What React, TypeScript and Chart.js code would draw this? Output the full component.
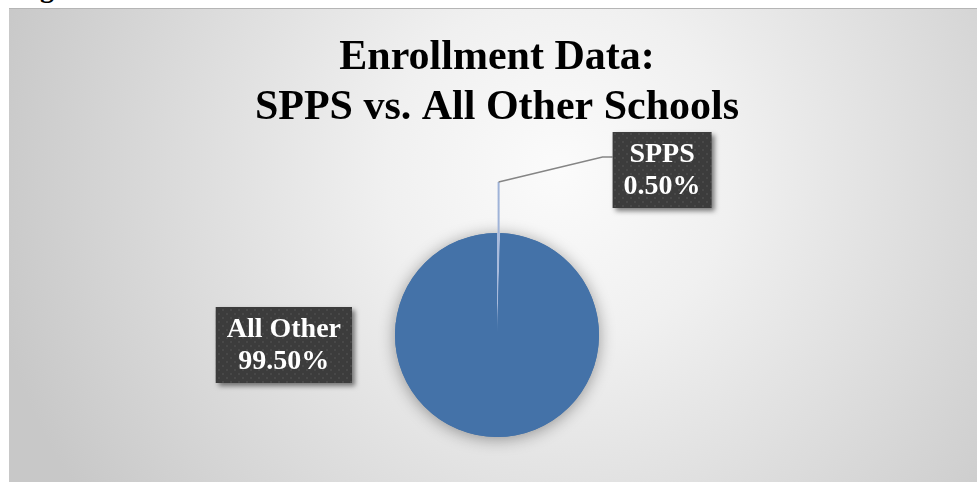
import React, { useEffect, useRef } from "react";
import { Chart, registerables } from "chart.js";

Chart.register(...registerables);

const titleLines = ["Enrollment Data:", "SPPS vs. All Other Schools"];
const categories = ["SPPS", "All Other"];
const shares = [0.5, 99.5];
const sliceColors = ["#A9BBDC", "#4472A8"];

const SERIF = "'Liberation Serif', 'Times New Roman', serif";

function makePattern(ctx: CanvasRenderingContext2D) {
  const c = document.createElement("canvas");
  c.width = 8;
  c.height = 8;
  const p = c.getContext("2d")!;
  p.fillStyle = "#3c3c3c";
  p.fillRect(0, 0, 8, 8);
  p.fillStyle = "#4c4c4c";
  p.beginPath();
  p.arc(2, 2, 1.1, 0, Math.PI * 2);
  p.fill();
  p.beginPath();
  p.arc(6, 6, 1.1, 0, Math.PI * 2);
  p.fill();
  return ctx.createPattern(c, "repeat");
}

const backgroundPlugin = {
  id: "bgGradient",
  beforeDraw(chart: any) {
    const { ctx, width, height } = chart;
    ctx.save();
    const g = ctx.createRadialGradient(551, 162, 0, 551, 162, 580);
    g.addColorStop(0, "#fbfbfb");
    g.addColorStop(0.3, "#f0f0f0");
    g.addColorStop(1, "#c8c8c8");
    ctx.fillStyle = g;
    ctx.fillRect(0, 0, width, height);
    ctx.strokeStyle = "#b5b5b5";
    ctx.lineWidth = 1;
    ctx.beginPath();
    ctx.moveTo(0, 0.5);
    ctx.lineTo(width, 0.5);
    ctx.stroke();
    ctx.restore();
  },
};

const pieShadowPlugin = {
  id: "pieShadow",
  beforeDatasetsDraw(chart: any) {
    const { ctx } = chart;
    const arc = chart.getDatasetMeta(0).data[1];
    if (!arc) return;
    const { x, y, outerRadius } = arc.getProps(["x", "y", "outerRadius"], true);
    ctx.save();
    ctx.shadowColor = "rgba(0,0,0,0.38)";
    ctx.shadowBlur = 16;
    ctx.shadowOffsetY = 2;
    ctx.fillStyle = sliceColors[1];
    ctx.beginPath();
    ctx.arc(x, y, outerRadius, 0, Math.PI * 2);
    ctx.fill();
    ctx.restore();
  },
};

const labelPlugin = {
  id: "calloutLabels",
  afterDraw(chart: any) {
    const { ctx } = chart;
    const meta = chart.getDatasetMeta(0);
    const total = shares.reduce((a, b) => a + b, 0);
    const pattern = makePattern(ctx);
    meta.data.forEach((arc: any, i: number) => {
      const { x, y, startAngle, endAngle, outerRadius } = arc.getProps(
        ["x", "y", "startAngle", "endAngle", "outerRadius"],
        true
      );
      const lines = [categories[i], ((shares[i] / total) * 100).toFixed(2) + "%"];
      ctx.save();
      ctx.font = `bold 28px ${SERIF}`;
      const w = Math.max(...lines.map((l) => ctx.measureText(l).width)) + 22;
      const h = 76;
      let left: number;
      let top: number;
      if (i === 0) {
        const mid = (startAngle + endAngle) / 2;
        const ox = x + outerRadius * Math.cos(mid);
        const oy = y + outerRadius * Math.sin(mid);
        const by = oy - 51;
        const ex = ox + 104;
        const ey = oy - 76;
        left = ox + 114;
        top = ey - 25;
        ctx.strokeStyle = "#9fb3d8";
        ctx.lineWidth = 2;
        ctx.beginPath();
        ctx.moveTo(ox, oy);
        ctx.lineTo(ox, by);
        ctx.stroke();
        ctx.strokeStyle = "#858585";
        ctx.lineWidth = 1.5;
        ctx.beginPath();
        ctx.moveTo(ox, by);
        ctx.lineTo(ex, ey);
        ctx.lineTo(left, ey);
        ctx.stroke();
      } else {
        left = x - 145 - w;
        top = y - 28;
      }
      ctx.shadowColor = "rgba(0,0,0,0.5)";
      ctx.shadowBlur = 5;
      ctx.shadowOffsetX = 3;
      ctx.shadowOffsetY = 3;
      ctx.fillStyle = pattern || "#3c3c3c";
      ctx.fillRect(left, top, w, h);
      ctx.shadowColor = "transparent";
      ctx.shadowBlur = 0;
      ctx.shadowOffsetX = 0;
      ctx.shadowOffsetY = 0;
      ctx.fillStyle = "#ffffff";
      ctx.textAlign = "center";
      ctx.textBaseline = "middle";
      ctx.fillText(lines[0], left + w / 2, top + 23);
      ctx.fillText(lines[1], left + w / 2, top + 55);
      ctx.restore();
    });
  },
};

export default function App() {
  const canvasRef = useRef<HTMLCanvasElement | null>(null);

  useEffect(() => {
    if (!canvasRef.current) return;
    const chart = new Chart(canvasRef.current, {
      type: "pie",
      data: {
        labels: categories,
        datasets: [
          {
            data: shares,
            backgroundColor: sliceColors,
            borderWidth: 0,
            radius: 102,
          } as any,
        ],
      },
      options: {
        animation: false,
        responsive: false,
        events: [],
        layout: { padding: { left: 8, right: 0, top: 0, bottom: 10 } },
        plugins: {
          legend: { display: false },
          tooltip: { enabled: false },
          title: {
            display: true,
            text: titleLines,
            color: "#000000",
            font: { family: SERIF, size: 42, weight: "bold", lineHeight: 50 / 42 },
            padding: { top: 25, bottom: 65 },
          },
        },
      },
      plugins: [backgroundPlugin, pieShadowPlugin, labelPlugin],
    });
    return () => chart.destroy();
  }, []);

  return (
    <div
      style={{
        position: "absolute",
        left: 0,
        top: 0,
        width: 977,
        height: 482,
        overflow: "hidden",
        background: "#ffffff",
      }}
    >
      <div
        style={{
          position: "absolute",
          left: 40,
          top: -26,
          fontFamily: SERIF,
          fontWeight: "bold",
          fontSize: 28,
          lineHeight: "28px",
          color: "#000",
        }}
      >
        g
      </div>
      <canvas
        ref={canvasRef}
        width={968}
        height={474}
        style={{ position: "absolute", left: 9, top: 8, width: 968, height: 474 }}
      />
    </div>
  );
}
